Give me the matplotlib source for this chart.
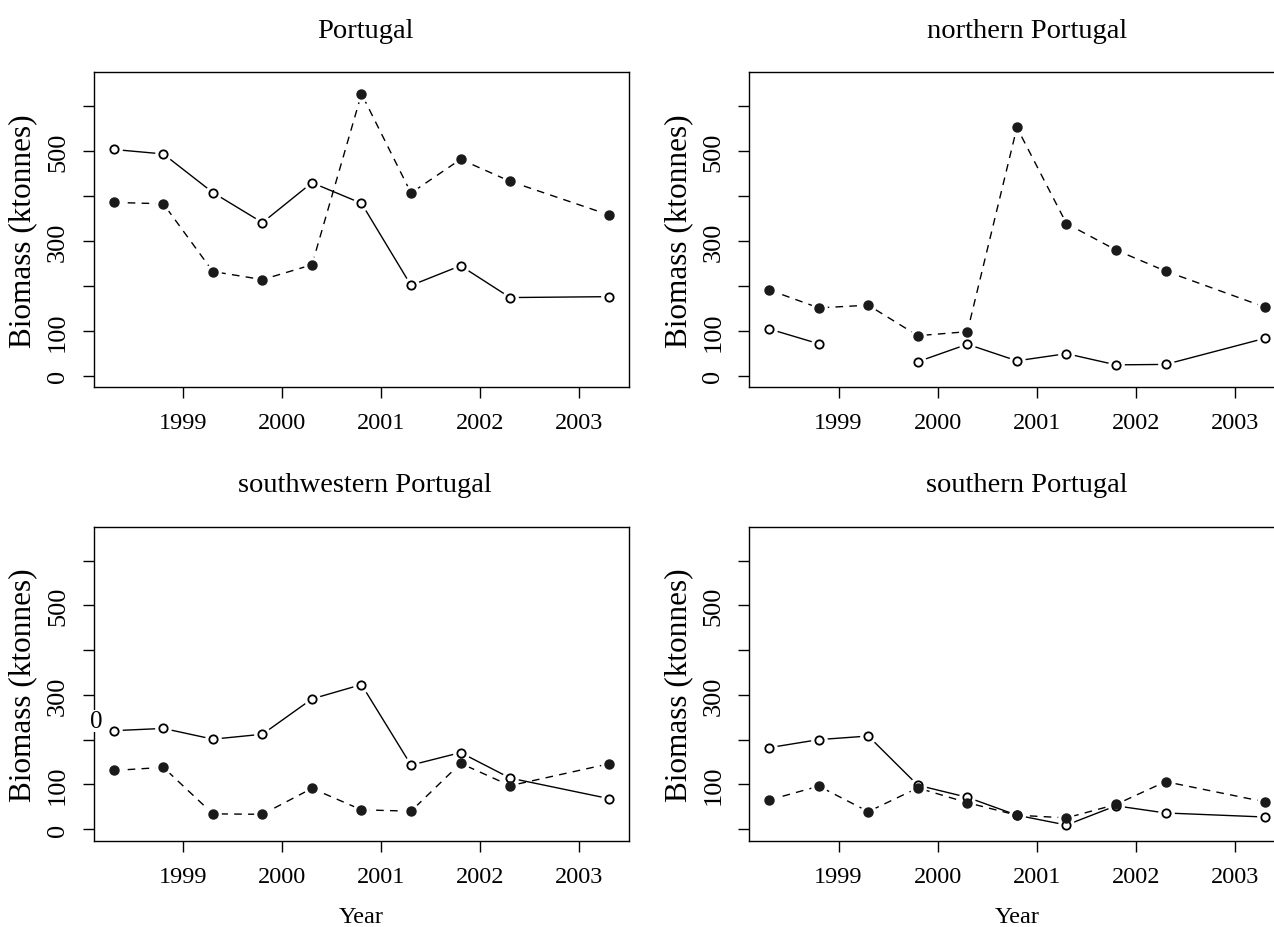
import numpy as np
import matplotlib
matplotlib.use("Agg")
import matplotlib.pyplot as plt

plt.rcParams['font.family'] = ['Liberation Serif', 'DejaVu Serif']

# survey dates (no survey at 2002.8)
years = [1998.3, 1998.8, 1999.3, 1999.8, 2000.3, 2000.8, 2001.3, 2001.8, 2002.3, 2003.3]
nan = np.nan

titles = ["Portugal", "northern Portugal", "southwestern Portugal", "southern Portugal"]

# open circles, solid line
open_vals = [
    [504, 494, 408, 341, 430, 384, 201, 245, 174, 176],
    [104, 71, nan, 31, 70, 33, 49, 24, 25, 83],
    [220, 225, 201, 212, 291, 323, 143, 171, 114, 68],
    [182, 200, 208, 98, 71, 31, 9, 52, 36, 27],
]
# filled circles, dashed line
filled_vals = [
    [386, 383, 232, 214, 247, 628, 407, 482, 433, 358],
    [191, 151, 157, 89, 98, 553, 339, 280, 233, 153],
    [131, 138, 34, 33, 91, 43, 40, 147, 97, 146],
    [65, 96, 39, 92, 59, 31, 25, 55, 106, 61],
]

xticks = [1999, 2000, 2001, 2002, 2003]
yticks = [0, 100, 200, 300, 400, 500, 600]

W, H = 1274, 928
fig = plt.figure(figsize=(W / 100, H / 100), dpi=100)

# pixel boxes: left, top, right, bottom (right column runs past the image edge)
boxes = [(94, 73.3, 629, 388.3), (749.4, 73.3, 1284.4, 388.3),
         (94, 527.7, 629, 841.7), (749.4, 527.7, 1284.4, 841.7)]
ylab_x = [22.5, 678.8]       # per column
title_x = [365, 1027]        # per column
title_y = [38, 492]          # per row

for i, (l, t, r, b) in enumerate(boxes):
    row, col = divmod(i, 2)
    ax = fig.add_axes([l / W, 1 - b / H, (r - l) / W, (b - t) / H])
    ax.set_xlim(1998.1, 2003.5)
    ax.set_ylim(-26, 676)

    ax.plot(years, open_vals[i], color='black', lw=1.0, zorder=2)
    ax.plot(years, filled_vals[i], color='black', lw=1.0, dashes=(5.5, 4.5), zorder=2)
    # white halo so lines stop short of the points (R type="b")
    for vals in (open_vals[i], filled_vals[i]):
        ax.plot(years, vals, ls='none', marker='o', ms=11, mfc='white', mec='white', zorder=3)
    ax.plot(years, open_vals[i], ls='none', marker='o', ms=6, mfc='white', mec='black',
            mew=1.3, zorder=4)
    ax.plot(years, filled_vals[i], ls='none', marker='o', ms=6.5, mfc='#1a1a1a', mec='#1a1a1a',
            mew=1.0, zorder=4)

    ax.set_xticks(xticks)
    ax.set_xticklabels([str(y) for y in xticks], fontsize=17.5)
    ax.set_yticks(yticks)
    ylabels = ['0', '100', '', '300', '', '500', '']
    if i == 3:
        ylabels[0] = ''
    ax.set_yticklabels(ylabels, rotation=90, va='center', fontsize=19)
    ax.tick_params(axis='both', direction='out', length=8, width=1.0, color='black')
    ax.tick_params(axis='x', pad=10)
    ax.tick_params(axis='y', pad=10)
    for sp in ax.spines.values():
        sp.set_linewidth(1.0)

    ax.set_ylabel('Biomass (ktonnes)', fontsize=22.5)
    ax.yaxis.label.set_va('center')
    ax.yaxis.set_label_coords((ylab_x[col] - l) / (r - l), 0.5)
    if row == 1:
        ax.set_xlabel('Year', fontsize=17.5)
        ax.xaxis.label.set_va('center')
        ax.xaxis.set_label_coords(0.5, -(918 - b) / (b - t))

    fig.text(title_x[col] / W, 1 - title_y[row] / H, titles[i], ha='center', va='baseline',
             fontsize=20.5)

# stray label in the lower-left panel of the original
fig.text(96 / W, 1 - 722 / H, '0', ha='center', va='center', fontsize=18,
         bbox=dict(facecolor='white', edgecolor='none', pad=0))

fig.savefig('out.png', dpi=100)
